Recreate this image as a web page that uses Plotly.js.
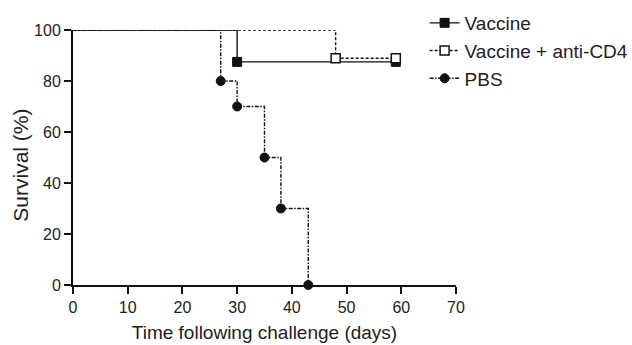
<!DOCTYPE html>
<html><head><meta charset="utf-8">
<script src="https://cdn.plot.ly/plotly-3.0.1.min.js"></script>
<style>html,body{margin:0;padding:0;background:#fff}#chart{width:632px;height:345px}</style>
</head><body><div id="chart"></div>
<script>
// Kaplan-Meier style survival data (days, % survival at event)
const groupNames = ["Vaccine", "Vaccine + anti-CD4", "PBS"];
const vaccineDays = [30, 59];
const vaccineSurv = [87.5, 87.5];
const cd4Days = [48, 59];
const cd4Surv = [88.9, 88.9];
const pbsDays = [27, 30, 35, 38, 43];
const pbsSurv = [80, 70, 50, 30, 0];
const startDay = 0;
const startSurv = 100;
const xTicks = [0, 10, 20, 30, 40, 50, 60, 70];
const yTicks = [0, 20, 40, 60, 80, 100];

const styles = [
  {dash: "solid", marker: {symbol: "square", size: 9, color: "#111", line: {color: "#111", width: 1}}},
  {dash: "3px,2px", marker: {symbol: "square", size: 9, color: "#fff", line: {color: "#111", width: 1.5}}},
  {dash: "4px,1.5px,1.5px,1.5px", marker: {symbol: "circle", size: 9, color: "#111", line: {color: "#111", width: 1}}}
];
const groups = [[vaccineDays, vaccineSurv], [cd4Days, cd4Surv], [pbsDays, pbsSurv]];

const traces = [];
groups.forEach((g, i) => {
  traces.push({
    x: [startDay, g[0][0]], y: [startSurv, g[1][0]],
    mode: "lines", line: {shape: "hv", color: "#111", width: 1.4, dash: styles[i].dash},
    showlegend: false, hoverinfo: "skip", cliponaxis: false
  });
});
groups.forEach((g, i) => {
  traces.push({
    x: g[0], y: g[1], name: groupNames[i],
    mode: "lines+markers", line: {shape: "hv", color: "#111", width: 1.4, dash: styles[i].dash},
    marker: styles[i].marker, cliponaxis: false
  });
});

const font = {family: "Liberation Sans, Arial, sans-serif", color: "#222"};
const layout = {
  width: 632, height: 345,
  margin: {l: 73, r: 176, t: 30, b: 60, autoexpand: false},
  paper_bgcolor: "#fff", plot_bgcolor: "#fff",
  showlegend: true,
  legend: {x: 0.918, xanchor: "left", yref: "container", y: 1 - 4 / 345, yanchor: "top",
           font: Object.assign({size: 19}, font), bgcolor: "rgba(0,0,0,0)"},
  xaxis: {
    range: [0, 70], tickvals: xTicks, ticktext: xTicks.map(String),
    showgrid: false, zeroline: false, showline: true, linecolor: "#111", linewidth: 2,
    ticks: "outside", ticklen: 7, tickwidth: 2, tickcolor: "#111",
    tickfont: Object.assign({size: 16}, font), automargin: false,
    title: {text: "Time following challenge (days)", font: Object.assign({size: 19}, font), standoff: 10}
  },
  yaxis: {
    range: [0, 100], tickvals: yTicks, ticktext: yTicks.map(String),
    showgrid: false, zeroline: false, showline: true, linecolor: "#111", linewidth: 2,
    ticks: "outside", ticklen: 7, tickwidth: 2, tickcolor: "#111",
    tickfont: Object.assign({size: 16}, font), automargin: false
  },
  annotations: [{
    text: "Survival (%)", xref: "paper", yref: "paper", x: -0.137, y: 0.47,
    xanchor: "center", yanchor: "middle", textangle: -90, showarrow: false,
    font: Object.assign({size: 21}, font)
  }]
};
Plotly.newPlot("chart", traces, layout, {staticPlot: true});
</script></body></html>
